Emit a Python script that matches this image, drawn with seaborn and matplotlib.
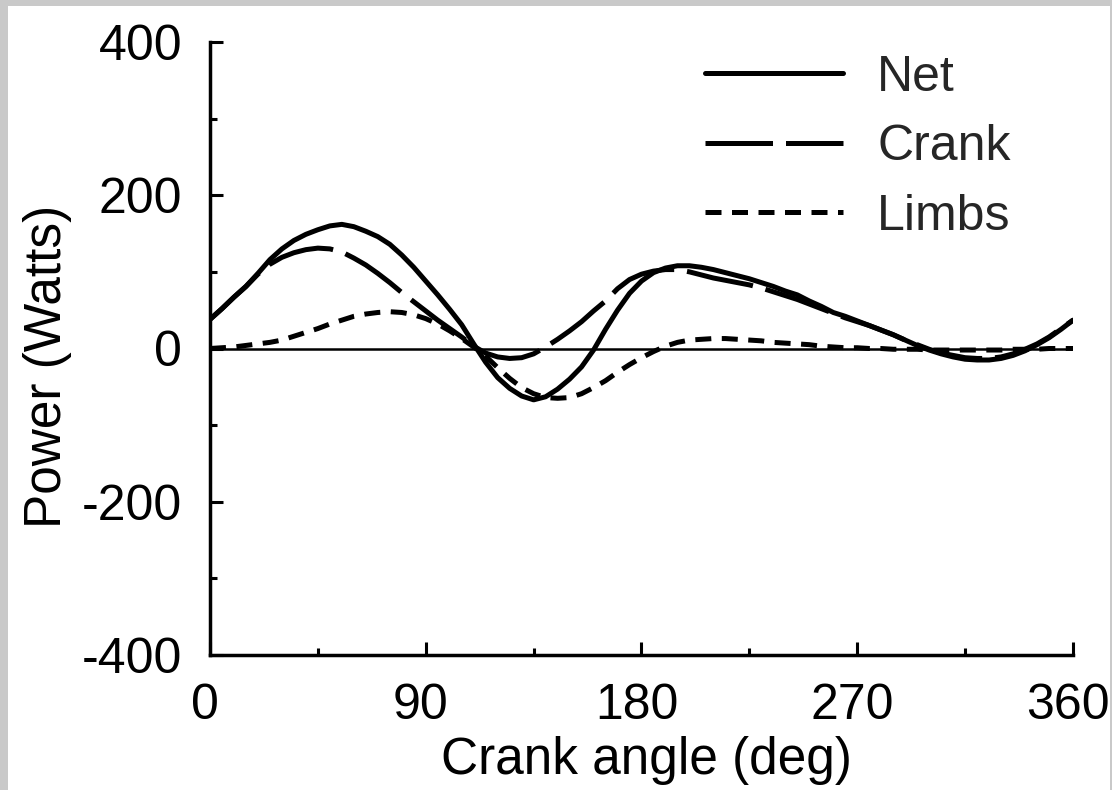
import numpy as np
import pandas as pd
import matplotlib
matplotlib.use("Agg")
import matplotlib.pyplot as plt
import matplotlib.transforms as mtransforms
import seaborn as sns

# crank angle samples (deg)
angle = [0, 5, 10, 15, 20, 25, 30, 35, 40, 45, 50, 55, 60, 65, 70, 75, 80, 85, 90,
         95, 100, 105, 110, 115, 120, 125, 130, 135, 140, 145, 150, 155, 160, 165, 170, 175, 180,
         185, 190, 195, 200, 205, 210, 215, 220, 225, 230, 235, 240, 245, 250, 255, 260, 265, 270,
         275, 280, 285, 290, 295, 300, 305, 310, 315, 320, 325, 330, 335, 340, 345, 350, 355, 360]

# power (W)
net = [38, 52, 67, 81, 98, 116, 130, 141, 149, 155, 160, 162, 159, 153, 146, 136, 122, 106, 88,
       70, 51, 31, 6, -18, -38, -52, -62, -67, -63, -53, -40, -24, -2, 25, 50, 72, 88,
       99, 105, 108, 108, 106, 103, 99, 95, 91, 86, 81, 75, 70, 62, 55, 47, 42, 36,
       30, 24, 18, 11, 4, -2, -7, -11, -14, -15, -15, -13, -9, -3, 5, 14, 25, 37]
crank = [38, 52, 67, 81, 97, 110, 119, 125, 129, 131, 130, 126, 118, 109, 98, 86, 73, 61, 49,
         37, 26, 15, 3, -6, -11, -13, -12, -7, 2, 12, 23, 35, 49, 62, 78, 90, 97,
         101, 103, 103, 100, 96, 92, 89, 86, 83, 79, 74, 69, 64, 58, 52, 46, 40, 35,
         30, 24, 18, 11, 5, -1, -6, -9, -12, -13, -13, -11, -7, -1, 6, 15, 26, 37]
limbs = [0, 1, 2, 4, 6, 8, 11, 16, 21, 26, 32, 37, 42, 45, 47, 48, 47, 44, 39,
         32, 23, 13, 2, -10, -25, -39, -51, -59, -64, -65, -64, -59, -51, -42, -31, -21, -12,
         -4, 3, 8, 11, 12, 13, 13, 12, 11, 10, 8, 7, 6, 5, 3, 2, 1, 1,
         0, 0, -1, -1, -1, -2, -2, -2, -2, -2, -2, -2, -1, -1, -1, 0, 0, 0]

series_names = ["Net", "Crank", "Limbs"]
x_ticks = [0, 90, 180, 270, 360]
y_ticks = [-400, -200, 0, 200, 400]

sns.set_theme(style="ticks")
plt.rcParams['font.family'] = ['Liberation Sans', 'DejaVu Sans']
plt.rcParams['axes.unicode_minus'] = False

fig = plt.figure(figsize=(11.12, 7.90), dpi=100, facecolor='#c9c9c9')
fig.add_artist(plt.Rectangle((8 / 1112, 0), 1102 / 1112, 784 / 790,
                             transform=fig.transFigure, facecolor='white',
                             edgecolor='none', zorder=-1))
ax = fig.add_axes([210 / 1112, 1 - 655 / 790, 863 / 1112, 613 / 790])
ax.set_facecolor('white')

lw = 3.6
styles = {
    "Net": dict(linestyle='-'),
    "Crank": dict(linestyle=(0, (13.5, 2.6))),
    "Limbs": dict(linestyle=(0, (3.2, 2.1))),
}
for name, vals in zip(series_names, [net, crank, limbs]):
    sns.lineplot(x=angle, y=vals, ax=ax, color='black', lw=lw, label=name,
                 **styles[name])

# zero reference line
ax.axhline(0, color='black', lw=1.8, zorder=1)

ax.set_xlim(0, 360)
ax.set_ylim(-400, 400)
ax.set_xticks(x_ticks)
ax.set_yticks(y_ticks)
ax.set_xticks([45, 135, 225, 315], minor=True)
ax.set_yticks([-300, -100, 100, 300], minor=True)
ax.tick_params(which='both', direction='in', width=2.2, colors='black',
               labelsize=36, pad=20)
ax.tick_params(which='major', length=9.5)
ax.tick_params(which='minor', length=4.8)

# x tick labels sit a few pixels left of their ticks in the original
shift = mtransforms.ScaledTranslation(-5 / 100, 0, fig.dpi_scale_trans)
for lbl in ax.get_xticklabels():
    lbl.set_transform(lbl.get_transform() + shift)

for s in ['top', 'right']:
    ax.spines[s].set_visible(False)
for s in ['left', 'bottom']:
    ax.spines[s].set_linewidth(2.5)
    ax.spines[s].set_color('black')

ax.set_xlabel('Crank angle (deg)', fontsize=37, color='black')
ax.set_ylabel('Power (Watts)', fontsize=37, color='black')
ax.xaxis.set_label_coords(0.506, -0.132)
ax.yaxis.set_label_coords(-0.16, 0.47)

ax.legend(loc='upper left', bbox_to_anchor=(0.5736, 0.979), frameon=False,
          fontsize=36, handlelength=2.76, handletextpad=0.68,
          labelspacing=0.47, borderpad=0, borderaxespad=0)

plt.savefig('out.png', dpi=100, facecolor=fig.get_facecolor())
